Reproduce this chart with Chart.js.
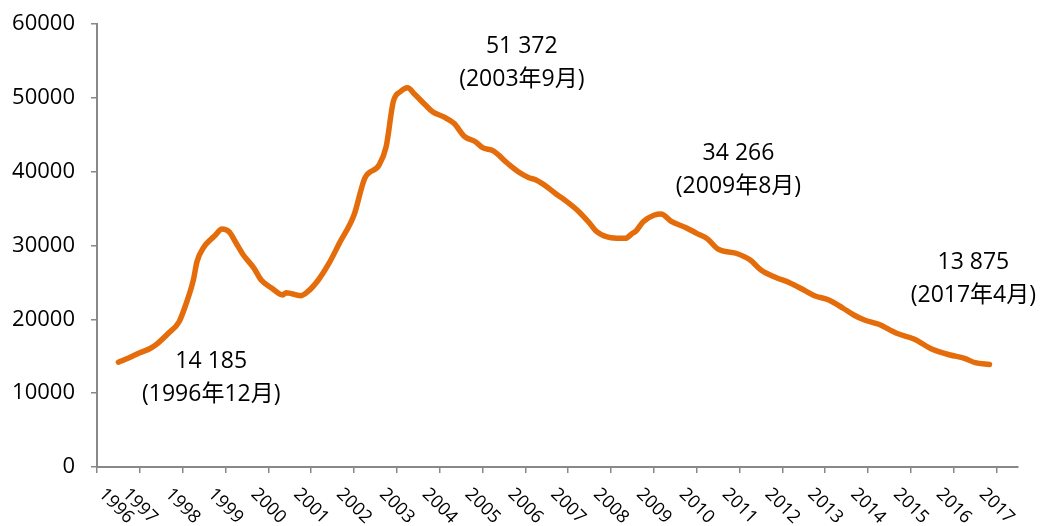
<!DOCTYPE html>
<html>
<head>
<meta charset="utf-8">
<script src="https://cdn.jsdelivr.net/npm/chart.js@4/dist/chart.umd.min.js"></script>
<style>
  html, body { margin: 0; padding: 0; background: #fff; }
  #wrap { width: 1045px; height: 526px; position: relative; }
</style>
</head>
<body>
<div id="wrap"><canvas id="grafica"></canvas></div>
<script>
// monthly points (YYYY-MM)
const months = ['1996-12','1997-03','1997-06','1997-09','1997-11','1998-02','1998-05','1998-07','1998-09','1998-10',
  '1998-12','1999-02','1999-03','1999-05','1999-07','1999-09','1999-11','2000-02','2000-04','2000-07',
  '2000-10','2000-11','2001-03','2001-05','2001-08','2001-11','2002-02','2002-06','2002-09','2003-01',
  '2003-03','2003-05','2003-07','2003-09','2003-11','2004-02','2004-04','2004-07','2004-10','2005-01',
  '2005-04','2005-06','2005-09','2006-01','2006-04','2006-07','2006-09','2006-12','2007-03','2007-05',
  '2007-09','2007-12','2008-02','2008-06','2008-10','2008-12','2009-01','2009-03','2009-06','2009-08',
  '2009-11','2010-03','2010-06','2010-09','2010-12','2011-05','2011-09','2011-12','2012-04','2012-08',
  '2012-12','2013-03','2013-07','2013-11','2014-02','2014-05','2014-09','2015-02','2015-07','2015-12',
  '2016-05','2016-09','2016-12','2017-04'];
const values = [14185,14800,15480,16080,16750,18110,19680,22170,25330,27810,
  29840,30880,31330,32240,31870,30300,28720,26910,25330,24200,
  23300,23610,23200,23740,25330,27600,30400,34130,39100,40900,
  43380,49480,50840,51372,50480,49030,48130,47450,46550,44740,
  44060,43250,42800,41140,40000,39190,38870,37970,36840,36160,
  34580,33010,31870,31060,30980,31650,31970,33230,34100,34266,
  33230,32410,31650,30900,29500,28950,28040,26680,25690,24970,
  23970,23200,22620,21500,20590,19910,19330,18110,17300,15940,
  15170,14720,14130,13875];
const yearLabels = ['1996','1997','1998','1999','2000','2001','2002','2003','2004','2005','2006',
  '2007','2008','2009','2010','2011','2012','2013','2014','2015','2016','2017'];
const yTicks = [0, 10000, 20000, 30000, 40000, 50000, 60000];

// callouts: text lines and where the first line sits (month index, value)
const callouts = [
  { lines: ['14 185', '(1996年12月)'], at: [26, 14360] },
  { lines: ['51 372', '(2003年9月)'], at: [113, 56900] },
  { lines: ['34 266', '(2009年8月)'], at: [173.7, 42400] },
  { lines: ['13 875', '(2017年4月)'], at: [239.5, 27770] }
];

// month index counted from 1996-12
function monthIndex(s) {
  let p = s.split('-');
  return (parseInt(p[0]) - 1996) * 12 + parseInt(p[1]) - 12;
}
// year ticks sit mid-year (June)
function yearTickPos(i) {
  return monthIndex(yearLabels[i] + '-06');
}

const FONT = '"Open Sans", "Noto Sans CJK SC", sans-serif';
Chart.defaults.font.family = FONT;
Chart.defaults.color = '#000';

let puntos = months.map((m, i) => ({ x: monthIndex(m), y: values[i] }));

const xLabelsPlugin = {
  id: 'xLabels',
  afterDraw(chart) {
    const ctx = chart.ctx;
    const xs = chart.scales.x;
    const area = chart.chartArea;
    ctx.save();
    ctx.font = '18px ' + FONT;
    ctx.fillStyle = '#000';
    ctx.textAlign = 'center';
    ctx.textBaseline = 'middle';
    const c = Math.SQRT1_2;
    for (let i = 0; i < yearLabels.length; i++) {
      let px = xs.getPixelForValue(yearTickPos(i));
      let w = ctx.measureText(yearLabels[i]).width;
      let ext = (w + 13) * c / 2;
      if (px - ext < area.left) px = area.left + ext;
      ctx.save();
      ctx.translate(px, area.bottom + 39);
      ctx.rotate(Math.PI / 4);
      ctx.fillText(yearLabels[i], 0, 0);
      ctx.restore();
    }
    ctx.restore();
  }
};

const calloutPlugin = {
  id: 'callouts',
  afterDraw(chart) {
    const ctx = chart.ctx;
    const xs = chart.scales.x, ys = chart.scales.y;
    ctx.save();
    ctx.font = '23px ' + FONT;
    ctx.fillStyle = '#000';
    ctx.textAlign = 'center';
    ctx.textBaseline = 'middle';
    callouts.forEach(c => {
      let px = xs.getPixelForValue(c.at[0]);
      let py = ys.getPixelForValue(c.at[1]);
      c.lines.forEach((t, k) => ctx.fillText(t, px, py + k * 33));
    });
    ctx.restore();
  }
};

const ctx = document.getElementById('grafica');
let ch = new Chart(ctx, {
  type: 'line',
  data: {
    datasets: [{
      data: puntos,
      borderColor: '#E46C0A',
      borderWidth: 5.5,
      pointRadius: 0,
      cubicInterpolationMode: 'monotone',
      borderCapStyle: 'round',
      borderJoinStyle: 'round',
      fill: false
    }]
  },
  options: {
    responsive: true,
    maintainAspectRatio: false,
    animation: false,
    layout: { padding: { top: 24, right: 27, left: 0, bottom: 0 } },
    plugins: { legend: { display: false }, tooltip: { enabled: false } },
    scales: {
      x: {
        type: 'linear',
        min: -6,
        max: 252,
        afterBuildTicks: function(scale) {
          scale.ticks = yearLabels.map((y, i) => ({ value: yearTickPos(i) }));
        },
        afterFit: function(scale) { scale.height = 59; },
        ticks: { display: false },
        grid: { drawOnChartArea: false, drawTicks: true, tickLength: 6, color: '#888', lineWidth: 1.5 },
        border: { color: '#888', width: 2 }
      },
      y: {
        min: 0,
        max: 60000,
        afterBuildTicks: function(scale) {
          scale.ticks = yTicks.map(v => ({ value: v }));
        },
        afterFit: function(scale) {
          scale.width = 97;
          scale.paddingTop = 0;
          scale.paddingBottom = 0;
        },
        ticks: {
          padding: 16,
          font: { size: 22 },
          color: '#000',
          callback: function(value) { return String(value); }
        },
        grid: { drawOnChartArea: false, drawTicks: true, tickLength: 6, color: '#888', lineWidth: 1.5 },
        border: { color: '#888', width: 2 }
      }
    }
  },
  plugins: [xLabelsPlugin, calloutPlugin]
});
</script>
</body>
</html>
